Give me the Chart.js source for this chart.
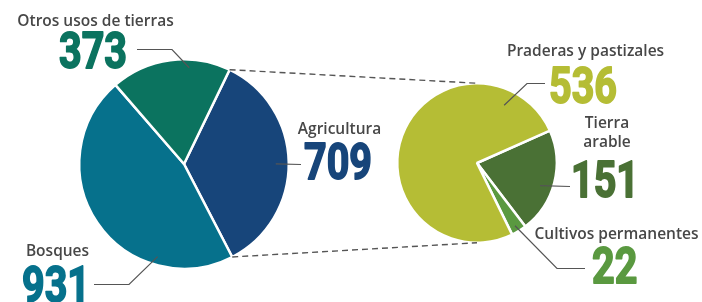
<!DOCTYPE html>
<html><head><meta charset="utf-8">
<script src="https://cdn.jsdelivr.net/npm/chart.js@4/dist/chart.umd.min.js"></script>
<style>
html,body{margin:0;padding:0;background:#fff;width:702px;height:302px;overflow:hidden}
#wrap{position:relative;width:702px;height:302px}
canvas{position:absolute;left:0;top:0}
</style></head><body>
<div id="wrap"><canvas id="c1" width="702" height="302"></canvas><canvas id="c2" width="702" height="302"></canvas></div>
<script>
// ---- data ----
const landCategories = ['Agricultura', 'Bosques', 'Otros usos de tierras'];
const landValues = [709, 931, 373];
const agriCategories = ['Tierra arable', 'Cultivos permanentes', 'Praderas y pastizales'];
const agriValues = [151, 22, 536];

// ---- styles ----
const landColors = ['#17457a', '#06718c', '#0b735f'];
const agriColors = ['#4a7135', '#5a9940', '#b5bd35'];
const labelColor = '#474747';
const lineColor = '#555555';

// label layout: chart (0 left, 1 right), slice index, label lines, number position, leader route
const labelLayout = [
  {c:0, i:2, lines:['Otros usos de tierras'], lx:95.5, ly:[26], nx:60, ny:68, frac:0.66, dist:0.92, route:[[172,49.5],[137,49.5]]},
  {c:0, i:0, lines:['Agricultura'], lx:339.5, ly:[134], nx:305, ny:179, frac:0.506, dist:0.876, route:[[301,164.5]]},
  {c:0, i:1, lines:['Bosques'], lx:57.5, ly:[256], nx:23, ny:302, frac:0.26, dist:0.92, route:[[129,284.5],[94,284.5]]},
  {c:1, i:2, lines:['Praderas y pastizales'], lx:585.5, ly:[56], nx:550, ny:103, frac:0.85, dist:0.80, route:[[527,83.5],[545,83.5]]},
  {c:1, i:0, lines:['Tierra', 'arable'], lx:607, ly:[128, 147], nx:572, ny:197, frac:0.57, dist:0.84, route:[[570,186.5]]},
  {c:1, i:1, lines:['Cultivos permanentes'], lx:616.5, ly:[239], nx:593, ny:283, frac:0.55, dist:0.92, route:[[557,268.5],[585,268.5]]}
];

let leftChart = null;

function arcPoint(el, frac, dist) {
  const p = el.getProps(['x','y','startAngle','endAngle','outerRadius'], true);
  const a = p.startAngle + (p.endAngle - p.startAngle) * frac;
  return [p.x + Math.cos(a) * p.outerRadius * dist, p.y + Math.sin(a) * p.outerRadius * dist];
}

const overlayPlugin = {
  id: 'overlay',
  afterDraw(chart) {
    const ctx = chart.ctx;
    const leftMeta = leftChart.getDatasetMeta(0);
    const rightMeta = chart.getDatasetMeta(0);
    const agriArc = leftMeta.data[0].getProps(['x','y','startAngle','endAngle','outerRadius'], true);
    const rArc = rightMeta.data[0].getProps(['x','y','outerRadius'], true);
    // dashed connectors
    ctx.save();
    ctx.strokeStyle = lineColor;
    ctx.lineWidth = 1.4;
    ctx.setLineDash([6, 4]);
    ctx.beginPath();
    ctx.moveTo(agriArc.x + Math.cos(agriArc.startAngle) * agriArc.outerRadius, agriArc.y + Math.sin(agriArc.startAngle) * agriArc.outerRadius);
    ctx.lineTo(rArc.x, rArc.y - rArc.outerRadius);
    ctx.moveTo(agriArc.x + Math.cos(agriArc.endAngle) * agriArc.outerRadius, agriArc.y + Math.sin(agriArc.endAngle) * agriArc.outerRadius);
    ctx.lineTo(rArc.x, rArc.y + rArc.outerRadius);
    ctx.stroke();
    ctx.restore();

    // number scale
    ctx.save();
    ctx.font = 'bold 50px Roboto';
    const sx = 68 / ctx.measureText('000').width;
    ctx.restore();

    labelLayout.forEach(L => {
      const ch = L.c === 0 ? leftChart : chart;
      const el = ch.getDatasetMeta(0).data[L.i];
      const values = L.c === 0 ? landValues : agriValues;
      const colors = L.c === 0 ? landColors : agriColors;
      // leader
      const start = arcPoint(el, L.frac, L.dist);
      ctx.save();
      ctx.strokeStyle = lineColor;
      ctx.lineWidth = 1.2;
      ctx.beginPath();
      ctx.moveTo(start[0], start[1]);
      L.route.forEach(pt => ctx.lineTo(pt[0], pt[1]));
      ctx.stroke();
      ctx.restore();
      // category text
      ctx.save();
      ctx.fillStyle = labelColor;
      ctx.font = '600 15.5px "Open Sans"';
      ctx.textAlign = 'center';
      ctx.textBaseline = 'alphabetic';
      L.lines.forEach((t, k) => ctx.fillText(t, L.lx, L.ly[k]));
      ctx.restore();
      // number
      ctx.save();
      ctx.fillStyle = colors[L.i];
      ctx.strokeStyle = colors[L.i];
      ctx.lineWidth = 1.8;
      ctx.lineJoin = 'round';
      ctx.font = 'bold 50px Roboto';
      ctx.textAlign = 'left';
      ctx.textBaseline = 'alphabetic';
      ctx.translate(L.nx - 1, L.ny - 0.5);
      ctx.scale(sx, 1);
      const txt = String(values[L.i]);
      ctx.fillText(txt, 0, 0);
      ctx.strokeText(txt, 0, 0);
      ctx.restore();
    });
  }
};

const commonOpts = (padding, rotation) => ({
  responsive: false,
  animation: false,
  devicePixelRatio: 1,
  rotation: rotation,
  layout: { padding: padding },
  plugins: { legend: { display: false }, tooltip: { enabled: false }, title: { display: false } },
  events: []
});

leftChart = new Chart(document.getElementById('c1'), {
  type: 'pie',
  data: {
    labels: landCategories,
    datasets: [{ data: landValues, backgroundColor: landColors, borderColor: '#ffffff', borderWidth: 2.5 }]
  },
  options: commonOpts({ left: 78, right: 412, top: 58, bottom: 32 }, 25.8)
});

new Chart(document.getElementById('c2'), {
  type: 'pie',
  data: {
    labels: agriCategories,
    datasets: [{ data: agriValues, backgroundColor: agriColors, borderColor: '#ffffff', borderWidth: 2.5 }]
  },
  options: commonOpts({ left: 396, right: 144, top: 82, bottom: 58 }, 66),
  plugins: [overlayPlugin]
});
</script>
</body></html>
